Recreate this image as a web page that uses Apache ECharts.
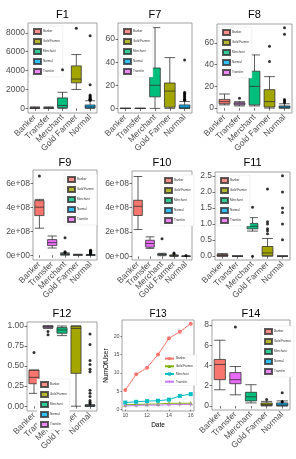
<!DOCTYPE html>
<html>
<head>
<meta charset="utf-8">
<script src="https://cdn.jsdelivr.net/npm/echarts@6/dist/echarts.min.js"></script>
<style>
  html, body { margin: 0; padding: 0; background: #fff; }
  #main { width: 296px; height: 459px; }
</style>
</head>
<body>
<div id="main"></div>
<script>
// categories on the x axis of every box panel, and the legend groups
var categories = ['Banker', 'Transfer', 'Merchant', 'Gold Farmer', 'Normal'];
var groupNames = ['Banker', 'Gold Farmer', 'Merchant', 'Normal', 'Transfer'];
var groupColors = ['#F8766D', '#A3A500', '#00BF7D', '#00B0F6', '#E76BF3'];

// box data: [min, Q1, median, Q3, max] per category, outliers per category
var f1Box = [[0, 0, 20, 60, 150], [0, 0, 20, 60, 150], [0, 50, 300, 1100, 1700], [2000, 2700, 3100, 4500, 5700], [0, 30, 150, 350, 800]];
var f1Outliers = [[], [], [4100], [8500], [7700, 2500, 1400, 1300, 1200, 1100, 1000, 950, 900, 850]];
var f1Ticks = [0, 2000, 4000, 6000, 8000];
var f1TickLabels = ['0', '2000', '4000', '6000', '8000'];

var f7Box = [[0, 0, 0, 0, 0], [0, 0, 0, 0, 0], [0, 10, 20, 35, 70], [0, 1, 15, 22, 44], [0, 0, 1, 3, 6]];
var f7Outliers = [[], [], [], [], [42, 14, 13, 12, 11, 10, 9, 8, 7.5, 7]];
var f7Ticks = [0, 20, 40, 60];
var f7TickLabels = ['0', '20', '40', '60'];

var f8Box = [[3, 4, 6, 8, 13], [2, 3, 4, 5, 6], [2, 3, 20, 34, 49], [0, 1, 6, 17, 29], [0, 0, 1, 2, 4]];
var f8Outliers = [[], [9], [], [57, 43], [74, 68, 8, 7, 6, 5]];
var f8Ticks = [0, 20, 40, 60];
var f8TickLabels = ['0', '20', '40', '60'];

var f9Box = [[2.25e8, 3.3e8, 4.0e8, 4.55e8, 4.65e8], [0.6e8, 0.8e8, 1.05e8, 1.3e8, 1.6e8], [0, 0.05e8, 0.1e8, 0.12e8, 0.2e8], [0, 0.01e8, 0.02e8, 0.04e8, 0.08e8], [0, 0.005e8, 0.01e8, 0.03e8, 0.06e8]];
var f9Outliers = [[6.6e8], [], [1.45e8, 0.28e8, 0.22e8], [], [0.42e8, 0.38e8, 0.35e8, 0.3e8, 0.25e8, 0.2e8, 0.15e8, 0.1e8]];
var f9Ticks = [0, 2e8, 4e8, 6e8];
var f9TickLabels = ['0e+00', '2e+08', '4e+08', '6e+08'];

var f10Box = [[2.2e8, 3.35e8, 4.1e8, 4.6e8, 6.55e8], [0.65e8, 0.75e8, 1.05e8, 1.32e8, 1.6e8], [0.05e8, 0.1e8, 0.15e8, 0.2e8, 0.25e8], [0, 0.02e8, 0.04e8, 0.08e8, 0.12e8], [0, 0, 0.01e8, 0.02e8, 0.03e8]];
var f10Outliers = [[], [], [1.45e8], [0.28e8, 0.22e8], [0.06e8]];
var f10Ticks = [0, 2e8, 4e8, 6e8];
var f10TickLabels = ['0e+00', '2e+08', '4e+08', '6e+08'];

var f11Box = [[0, 0, 0.02, 0.05, 0.08], [0, 0, 0, 0, 0], [0.78, 0.85, 0.93, 1.02, 1.2], [0, 0.01, 0.1, 0.3, 0.55], [0, 0, 0, 0, 0]];
var f11Outliers = [[], [], [1.52, 0], [2.09, 1.07, 1.0, 0.85, 0.79, 0.7], [2.5, 2.0, 1.5, 1.36, 1.0, 0.51]];
var f11Ticks = [0, 0.5, 1, 1.5, 2, 2.5];
var f11TickLabels = ['0.0', '0.5', '1.0', '1.5', '2.0', '2.5'];

var f12Box = [[0.16, 0.28, 0.36, 0.45, 0.45], [0.97, 0.98, 1.0, 1.0, 1.0], [0.88, 0.91, 0.95, 0.98, 1.0], [0, 0.41, 0.97, 1.0, 1.0], [0, 0, 0, 0.01, 0.02]];
var f12Outliers = [[0.67], [0.93, 0.89], [], [], [0.9, 0.77, 0.57, 0.52, 0.46, 0.43, 0.2, 0.16, 0.12, 0.07, 0.05, 0.03]];
var f12Ticks = [0, 0.25, 0.5, 0.75, 1];
var f12TickLabels = ['0.00', '0.25', '0.50', '0.75', '1.00'];

var f14Box = [[1.6, 2.6, 4.1, 4.6, 6.5], [1.1, 2.2, 2.6, 3.3, 3.9], [0.3, 0.5, 0.9, 1.35, 2.1], [0, 0.05, 0.15, 0.3, 0.45], [0, 0.02, 0.1, 0.3, 0.5]];
var f14Outliers = [[], [7.8], [], [0.65], [1.3, 0.45, 0.4]];
var f14Ticks = [0, 2, 4, 6, 8];
var f14TickLabels = ['0', '2', '4', '6', '8'];

// F13 line panel
var dates = [10, 11, 12, 13, 14, 15, 16];
var lineNames = ['Banker', 'Gold Farmer', 'Merchant', 'Transfer'];
var lineColors = ['#F8766D', '#7CAE00', '#00BFC4', '#C77CFF'];
var bankerUsers = [5.3, 9.6, 11.4, 15.0, 19.4, 21.2, 23.4];
var goldFarmerUsers = [1.3, 1.4, 1.45, 1.5, 1.7, 1.7, 1.7];
var merchantUsers = [1.9, 2.1, 2.3, 2.4, 2.7, 3.7, 4.2];
var transferUsers = [1.0, 1.1, 1.2, 1.2, 1.3, 1.4, 1.4];
var f13XTicks = [10, 12, 14, 16];
var f13YTicks = [0, 5, 10, 15, 20];

var FONT = 'Liberation Sans, Arial, sans-serif';

// panel placement: grid [left, top, width, height], y range, legend corner
var panels = [
    {title: 'F1', box: f1Box, out: f1Outliers, ticks: f1Ticks, labels: f1TickLabels, grid: [28, 23, 69, 90], y: [-500, 9050], legend: [30, 26], titleTop: 9},
    {title: 'F7', box: f7Box, out: f7Outliers, ticks: f7Ticks, labels: f7TickLabels, grid: [118, 23, 74, 90], y: [-4, 74], legend: [120, 26], titleTop: 9},
    {title: 'F8', box: f8Box, out: f8Outliers, ticks: f8Ticks, labels: f8TickLabels, grid: [217, 24, 75, 89], y: [-4.5, 77.5], legend: [219, 27], titleTop: 9},
    {title: 'F9', box: f9Box, out: f9Outliers, ticks: f9Ticks, labels: f9TickLabels, grid: [33, 170, 64, 90], y: [-0.4e8, 7.1e8], legend: [64, 174], titleTop: 157},
    {title: 'F10', box: f10Box, out: f10Outliers, ticks: f10Ticks, labels: f10TickLabels, grid: [132, 171, 60, 89], y: [-0.3e8, 7.0e8], legend: [161, 175], titleTop: 157},
    {title: 'F11', box: f11Box, out: f11Outliers, ticks: f11Ticks, labels: f11TickLabels, grid: [215, 172, 75, 88], y: [-0.12, 2.62], legend: [217, 175], titleTop: 157},
    {title: 'F12', box: f12Box, out: f12Outliers, ticks: f12Ticks, labels: f12TickLabels, grid: [27, 322, 70, 89], y: [-0.06, 1.05], legend: [37, 379], titleTop: 308},
    {title: 'F13', line: true, grid: [122, 320, 72, 91], y: [-0.4, 24.4], legend: [161, 355], titleTop: 309},
    {title: 'F14', box: f14Box, out: f14Outliers, ticks: f14Ticks, labels: f14TickLabels, grid: [212, 320, 78, 90], y: [-0.4, 8.5], legend: [261, 326], titleTop: 308}
];

function colorOf(name) {
    return groupColors[groupNames.indexOf(name)];
}

var myChart = echarts.init(document.getElementById('main'), null, {renderer: 'canvas'});

var grids = [], titles = [], xAxes = [], yAxes = [], legends = [], series = [];

// dummy series so the box legends get their keys
groupNames.forEach(function (name, k) {
    series.push({
        name: name, type: 'scatter', xAxisIndex: 0, yAxisIndex: 0, data: [],
        itemStyle: {color: groupColors[k], borderColor: '#333', borderWidth: 0.5}
    });
});

panels.forEach(function (p, i) {
    var g = p.grid;
    grids.push({
        left: g[0], top: g[1], width: g[2], height: g[3],
        show: true, borderColor: '#8c8c8c', borderWidth: 0.8, backgroundColor: '#fff',
        containLabel: false, outerBoundsMode: 'none'
    });
    titles.push({
        text: p.title, left: g[0] + g[2] / 2, top: p.titleTop, textAlign: 'center', padding: 0,
        textStyle: {fontFamily: FONT, fontSize: p.line ? 10 : 11, fontWeight: 'normal', color: '#000'}
    });

    var legendBase = {
        orient: 'vertical', left: p.legend[0], top: p.legend[1],
        padding: [2, 3], itemGap: 3, itemWidth: 7, itemHeight: 5,
        backgroundColor: '#fff', borderColor: '#e2e2e2', borderWidth: 0.5,
        selectedMode: false,
        textStyle: {fontFamily: FONT, fontSize: 3, color: '#333', padding: [0, 0, 0, -3]}
    };

    if (p.line) {
        xAxes.push({
            gridIndex: i, type: 'value', min: 9.7, max: 16.3,
            name: 'Date', nameLocation: 'middle', nameGap: 11,
            nameTextStyle: {fontFamily: FONT, fontSize: 6.5, color: '#000'},
            axisLine: {show: false}, splitLine: {show: false},
            axisTick: {show: true, length: 1.5, customValues: f13XTicks, lineStyle: {color: '#333', width: 0.6}},
            axisLabel: {customValues: f13XTicks, fontFamily: FONT, fontSize: 5.2, color: '#4D4D4D', margin: 2.5}
        });
        yAxes.push({
            gridIndex: i, type: 'value', min: p.y[0], max: p.y[1],
            name: 'NumOfUser', nameLocation: 'middle', nameGap: 10,
            nameTextStyle: {fontFamily: FONT, fontSize: 6.5, color: '#000'},
            axisLine: {show: false}, splitLine: {show: false},
            axisTick: {show: true, length: 1.5, customValues: f13YTicks, lineStyle: {color: '#333', width: 0.6}},
            axisLabel: {customValues: f13YTicks, fontFamily: FONT, fontSize: 5.2, color: '#4D4D4D', margin: 2.5}
        });
        var lineData = [bankerUsers, goldFarmerUsers, merchantUsers, transferUsers];
        var symbols = ['circle', 'triangle', 'rect', 'path://M4,0H6V4H10V6H6V10H4V6H0V4H4Z'];
        lineNames.forEach(function (name, k) {
            series.push({
                name: name + ' ', type: 'line', xAxisIndex: i, yAxisIndex: i,
                data: dates.map(function (d, j) { return [d, lineData[k][j]]; }),
                symbol: symbols[k], symbolSize: 4, showSymbol: true,
                lineStyle: {color: lineColors[k], width: 1},
                itemStyle: {color: lineColors[k]},
                z: 3
            });
        });
        legendBase.itemWidth = 9;
        legendBase.itemHeight = 4;
        legendBase.itemGap = 4.5;
        legendBase.data = lineNames.map(function (n) { return n + ' '; });
        legends.push(legendBase);
        return;
    }

    xAxes.push({
        gridIndex: i, type: 'category', data: categories,
        axisLine: {show: false}, splitLine: {show: false},
        axisTick: {show: true, alignWithLabel: true, length: 2.5, lineStyle: {color: '#333', width: 0.7}},
        axisLabel: {interval: 0, rotate: 45, fontFamily: FONT, fontSize: 8.5, color: '#4D4D4D', margin: 3}
    });
    var labels = p.labels, ticks = p.ticks;
    yAxes.push({
        gridIndex: i, type: 'value', min: p.y[0], max: p.y[1],
        axisLine: {show: false}, splitLine: {show: false},
        axisTick: {show: true, length: 2.5, customValues: ticks, lineStyle: {color: '#333', width: 0.7}},
        axisLabel: {
            customValues: ticks, fontFamily: FONT, fontSize: 8.5, color: '#4D4D4D', margin: 3,
            formatter: function (v) {
                var idx = ticks.indexOf(v);
                return idx >= 0 ? labels[idx] : '';
            }
        }
    });

    series.push({
        name: p.title, type: 'boxplot', xAxisIndex: i, yAxisIndex: i,
        boxWidth: ['72%', '72%'],
        itemStyle: {borderColor: '#333', borderWidth: 0.8},
        data: p.box.map(function (b, j) {
            return {value: b, itemStyle: {color: colorOf(categories[j])}};
        }),
        z: 2
    });

    var outData = [];
    p.out.forEach(function (vals, j) {
        vals.forEach(function (v) { outData.push([j, v]); });
    });
    series.push({
        name: p.title + ' outliers', type: 'scatter', xAxisIndex: i, yAxisIndex: i,
        data: outData, symbolSize: 3, itemStyle: {color: '#000'}, z: 4
    });

    legendBase.icon = 'rect';
    legendBase.data = groupNames.slice();
    legends.push(legendBase);
});

var option = {
    animation: false,
    backgroundColor: '#fff',
    title: titles,
    grid: grids,
    xAxis: xAxes,
    yAxis: yAxes,
    legend: legends,
    series: series
};

myChart.setOption(option);
</script>
</body>
</html>
